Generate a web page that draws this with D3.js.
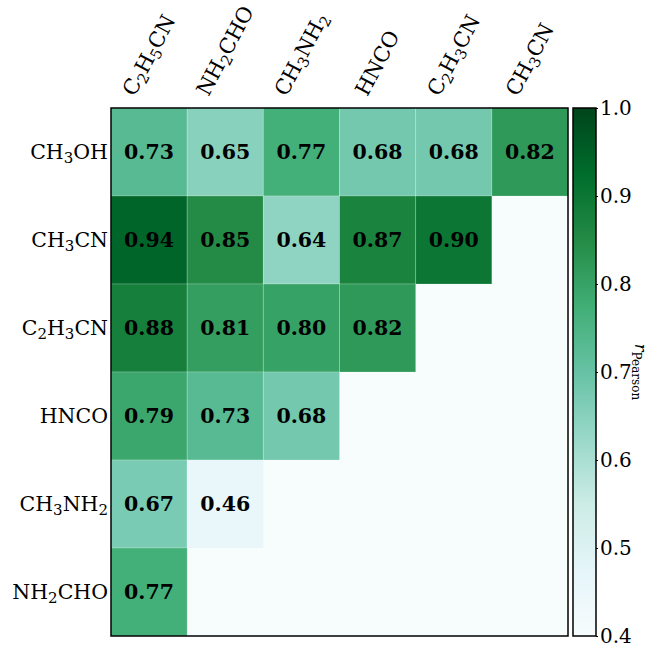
<!DOCTYPE html>
<html><head><meta charset="utf-8">
<script src="https://cdn.jsdelivr.net/npm/d3@7"></script>
<style>body{margin:0;background:#fff}svg{display:block}</style>
</head><body>
<svg id="c" width="652" height="646"></svg>
<script>
const rowLabels = ["CH3OH","CH3CN","C2H3CN","HNCO","CH3NH2","NH2CHO"];
const colLabels = ["C2H5CN","NH2CHO","CH3NH2","HNCO","C2H3CN","CH3CN"];
const row0 = [0.73,0.65,0.77,0.68,0.68,0.82];
const row1 = [0.94,0.85,0.64,0.87,0.90];
const row2 = [0.88,0.81,0.80,0.82];
const row3 = [0.79,0.73,0.68];
const row4 = [0.67,0.46];
const row5 = [0.77];
const rows = [row0,row1,row2,row3,row4,row5];
const cbTicks = [0.4,0.5,0.6,0.7,0.8,0.9,1.0];
const vmin = 0.4, vmax = 1.0;
const bugn = ["#f7fcfd","#e5f5f9","#ccece6","#99d8c9","#66c2a4","#41ae76","#238b45","#006d2c","#00441b"];

const svg = d3.select("#c");
const L = 111, R = 568, T = 108, B = 636;
const x = d3.scaleBand().domain(colLabels.map((d,i)=>i)).range([L,R]);
const y = d3.scaleBand().domain(rowLabels.map((d,i)=>i)).range([T,B]);
const cscale = d3.scaleLinear().domain(bugn.map((d,i)=>vmin+(vmax-vmin)*i/(bugn.length-1))).range(bugn).interpolate(d3.interpolateRgb).clamp(true);

const cells = [];
rows.forEach((r,i)=>r.forEach((v,j)=>cells.push({i,j,v})));

svg.append("rect").attr("x",L).attr("y",T).attr("width",R-L).attr("height",B-T).attr("fill",cscale(vmin));
svg.append("g").selectAll("rect").data(cells).join("rect")
  .attr("x",d=>x(d.j)).attr("y",d=>y(d.i)).attr("width",x.bandwidth()).attr("height",y.bandwidth())
  .attr("fill",d=>cscale(d.v)).attr("stroke","rgba(255,255,255,0.2)").attr("stroke-width",1);
svg.append("g").selectAll("text").data(cells).join("text")
  .attr("x",d=>x(d.j)+x.bandwidth()/2).attr("y",d=>y(d.i)+y.bandwidth()/2)
  .attr("text-anchor","middle").attr("dominant-baseline","central")
  .attr("font-family","DejaVu Serif").attr("font-weight","bold").attr("font-size",20.5)
  .attr("fill","#000").text(d=>d.v.toFixed(2));
svg.append("rect").attr("x",L).attr("y",T).attr("width",R-L).attr("height",B-T)
  .attr("fill","none").attr("stroke","#000").attr("stroke-width",1.5);

function chem(sel, s, subSize, shift){
  const parts = s.match(/\d+|\D+/g);
  let pendingUp = false;
  parts.forEach(p=>{
    if(/\d/.test(p)){
      sel.append("tspan").attr("font-size",subSize).attr("dy",shift).text(p);
      pendingUp = true;
    } else {
      const t = sel.append("tspan").text(p);
      if(pendingUp){ t.attr("dy",-shift); pendingUp = false; }
    }
  });
}
const fontLab = "DejaVu Serif";
// row labels
rowLabels.forEach((s,i)=>{
  const t = svg.append("text").attr("x",L-3).attr("y",y(i)+y.bandwidth()/2+7)
    .attr("text-anchor","end").attr("font-family",fontLab).attr("font-size",20.5).attr("fill","#000");
  chem(t,s,15,4);
});
// column labels rotated
const deg = 62, ang = deg*Math.PI/180, cfs = 21;
colLabels.forEach((s,j)=>{
  const g = svg.append("g");
  const t = g.append("text").attr("text-anchor","middle").attr("font-family",fontLab).attr("font-size",cfs).attr("fill","#000").attr("y",7);
  chem(t,s,15,4);
  const len = t.node().getComputedTextLength();
  const h = len*Math.sin(ang) + cfs*Math.cos(ang);
  const cx = x(j)+x.bandwidth()/2, cy = T - 9 - h/2;
  g.attr("transform",`translate(${cx},${cy}) rotate(${-deg})`);
});

// colorbar
const cbL = 573, cbW = 23;
const cy2 = d3.scaleLinear().domain([vmin,vmax]).range([B,T]);
const defs = svg.append("defs");
const grad = defs.append("linearGradient").attr("id","cbg").attr("x1",0).attr("y1",1).attr("x2",0).attr("y2",0);
bugn.forEach((c,i)=>grad.append("stop").attr("offset",i/(bugn.length-1)).attr("stop-color",c));
svg.append("rect").attr("x",cbL).attr("y",T).attr("width",cbW).attr("height",B-T).attr("fill","url(#cbg)")
  .attr("stroke","#000").attr("stroke-width",1.5);
const ax = d3.axisRight(cy2).tickValues(cbTicks).tickFormat(d3.format(".1f")).tickSize(2).tickPadding(2);
const ag = svg.append("g").attr("transform",`translate(${cbL+cbW},0)`).call(ax);
ag.select(".domain").remove();
ag.selectAll("text").attr("font-family","DejaVu Serif").attr("font-size",20).attr("fill","#000");
ag.selectAll("line").attr("stroke","#000");
const cl = svg.append("text").attr("transform",`translate(635,${(T+B)/2}) rotate(90)`)
  .attr("text-anchor","middle").attr("font-family","DejaVu Serif").attr("font-size",16).attr("fill","#000");
cl.append("tspan").attr("font-style","italic").text("r");
cl.append("tspan").attr("font-size",12).attr("dy",3).text("Pearson");
</script>
</body></html>
